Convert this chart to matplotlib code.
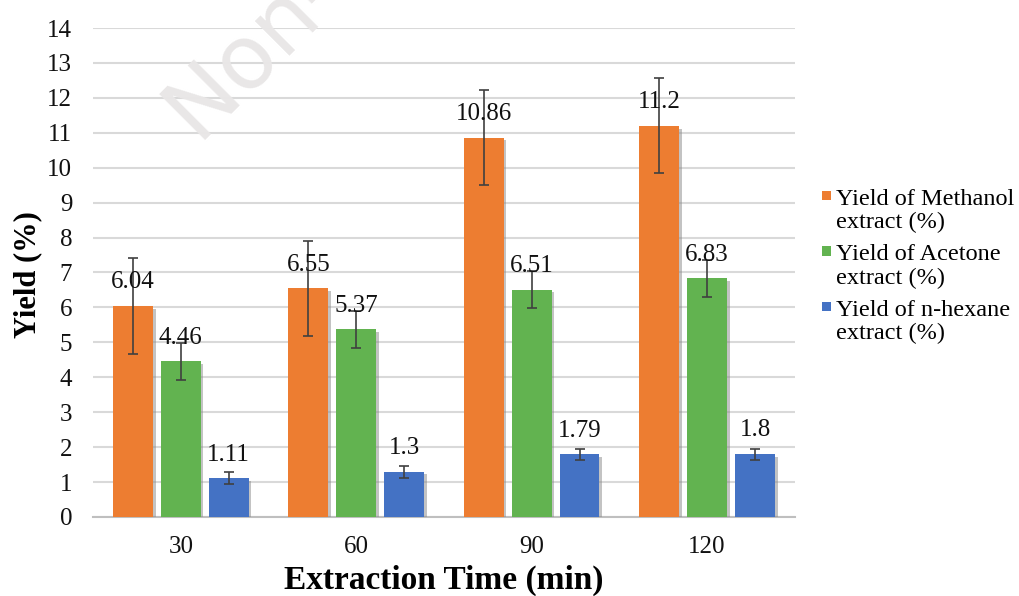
import matplotlib
matplotlib.use("Agg")
import matplotlib.pyplot as plt
import matplotlib.patheffects as pe
from matplotlib.patches import Rectangle
from matplotlib.legend_handler import HandlerPatch
import numpy as np

categories = ["30", "60", "90", "120"]
methanol = [6.04, 6.55, 10.86, 11.2]
acetone = [4.46, 5.37, 6.51, 6.83]
hexane = [1.11, 1.3, 1.79, 1.8]
methanol_err = [1.37, 1.36, 1.36, 1.36]
acetone_err = [0.53, 0.53, 0.54, 0.53]
hexane_err = [0.18, 0.17, 0.16, 0.16]
series_names = ["Yield of Methanol\nextract (%)", "Yield of Acetone\nextract (%)",
                "Yield of n-hexane\nextract (%)"]
colors = ["#ED7D31", "#62B350", "#4472C4"]

plt.rcParams['font.family'] = ['Liberation Serif', 'DejaVu Serif']

LEG_FS = 17.5
LEG_LS = 1.15


class TopSquareHandler(HandlerPatch):
    """Legend square aligned with the first line of a two-line label."""
    def create_artists(self, legend, orig_handle, xdescent, ydescent,
                       width, height, fontsize, trans):
        s = width
        yc = 0.92 * fontsize * LEG_LS + 0.33 * fontsize - 7.5
        p = Rectangle((-xdescent, yc - s / 2), s, s,
                      facecolor=orig_handle.get_facecolor(), edgecolor='none',
                      transform=trans)
        return [p]


fig = plt.figure(figsize=(10.19, 5.96), dpi=100)

fig.text(0.193, 0.765, "Non-", rotation=45, rotation_mode='anchor', fontsize=64,
         color='#E9E7E7', family='DejaVu Sans', ha='left', va='baseline', zorder=0)

ax = fig.add_axes([0.0913, 0.1326, 0.6887, 0.8204])
ax.patch.set_alpha(0)

x = np.arange(len(categories))
width = 0.227
step = 0.273
data = [methanol, acetone, hexane]
errs = [methanol_err, acetone_err, hexane_err]
handles = []
for i, (vals, er, c, name) in enumerate(zip(data, errs, colors, series_names)):
    pos = x + (i - 1) * step
    bars = ax.bar(pos, vals, width, color=c, label=name, zorder=3,
                  path_effects=[pe.SimplePatchShadow(offset=(2, -2), shadow_rgbFace='#888888', alpha=0.5), pe.Normal()])
    handles.append(bars.patches[0])
    ax.errorbar(pos, vals, yerr=er, fmt='none', ecolor='#404040', elinewidth=1.2,
                capsize=3.6, capthick=1.2, zorder=4)
    for p, v in zip(pos, vals):
        ax.annotate(f"{v:g}", (p, v), xytext=(0, 17), textcoords='offset points',
                    ha='center', va='center', fontsize=18, color='#111111', zorder=5)

ax.set_ylim(0, 14)
ax.set_xlim(-0.5, 3.5)
ax.set_yticks(range(0, 15))
ax.set_xticks(x)
ax.set_xticklabels(categories)
ax.tick_params(axis='both', length=0, labelsize=18, colors='#111111')
ax.tick_params(axis='y', pad=15)
ax.tick_params(axis='x', pad=14)
ax.yaxis.grid(True, color='#D9D9D9', linewidth=1.5, zorder=0)
ax.set_axisbelow(True)
for s in ['top', 'right', 'left']:
    ax.spines[s].set_visible(False)
ax.spines['bottom'].set_color('#BFBFBF')
ax.spines['bottom'].set_linewidth(1.5)

ax.set_xlabel("Extraction Time (min)", fontsize=24, fontweight='bold')
ax.xaxis.set_label_coords(0.5, -0.098)
ax.set_ylabel("Yield (%)", fontsize=22, fontweight='bold')
ax.yaxis.set_label_coords(-0.0727, 0.495)

leg = fig.legend(handles=handles, labels=series_names, loc='center left',
                 bbox_to_anchor=(0.8067, 0.553), frameon=False, fontsize=LEG_FS,
                 handlelength=0.38, handleheight=0.45, handletextpad=0.2,
                 labelspacing=0.45, borderaxespad=0, borderpad=0,
                 handler_map={Rectangle: TopSquareHandler()})
for t in leg.get_texts():
    t.set_linespacing(LEG_LS)

fig.savefig("out.png", dpi=100)
